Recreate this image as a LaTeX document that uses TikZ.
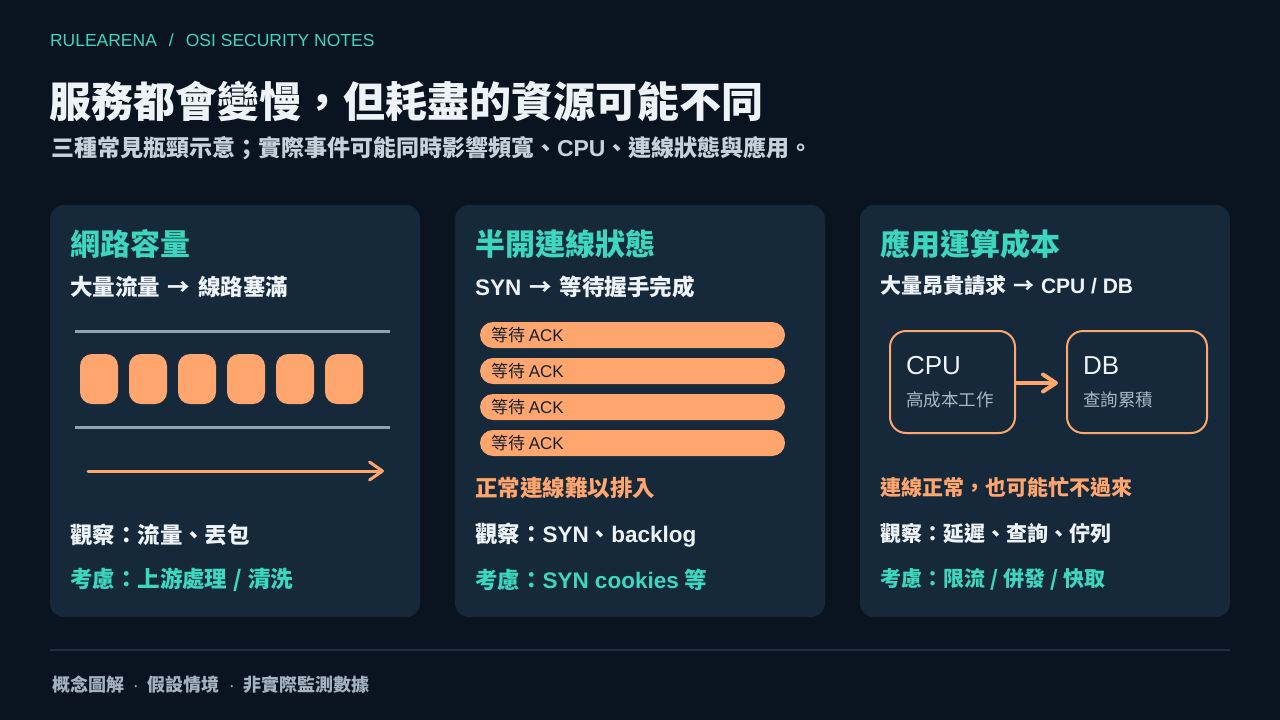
\documentclass[tikz,border=0pt]{standalone}
\usepackage{fontspec}
\usetikzlibrary{arrows.meta}
\setmainfont{Noto Sans CJK TC}
\newfontfamily\la{Liberation Sans}
\definecolor{bg}{HTML}{0A1320}
\definecolor{cardc}{HTML}{15293A}
\definecolor{teal}{HTML}{3DD6BE}
\definecolor{orng}{HTML}{FFA66F}
\definecolor{fg}{HTML}{EEF3F7}
\definecolor{subc}{HTML}{C6D2DB}
\definecolor{pipec}{HTML}{8EA3B0}
\definecolor{mutec}{HTML}{A8B8C4}
\definecolor{footc}{HTML}{A3B3BF}
\definecolor{rulec}{HTML}{1E3142}
\definecolor{darkt}{HTML}{14202C}
\newcommand{\fs}[1]{\fontsize{#1}{#1}\selectfont}
\newcommand{\arr}{\hspace{8pt}→\hspace{8pt}}
\newcommand{\sls}{\hspace{6pt}/\hspace{6pt}}
\begin{document}
\begin{tikzpicture}[x=1pt,y=-1pt,
  t/.style={anchor=west, inner sep=0pt, outer sep=0pt},
  cardbox/.style={fill=cardc, rounded corners=14pt, minimum width=370pt, minimum height=412pt, inner sep=0pt},
  cardtitle/.style={t, text=teal, font=\bfseries\fs{30}},
  cardsub/.style={t, text=fg, font=\bfseries\fs{22.5}},
  obs/.style={t, text=fg, font=\bfseries\fs{22.5}},
  cons/.style={t, text=teal, font=\bfseries\fs{22.5}},
  warn/.style={t, text=orng, font=\bfseries\fs{22.5}},
  small/.style={font=\bfseries\fs{21}},
  packet/.style={fill=orng, rounded corners=12pt, minimum width=38pt, minimum height=50pt, inner sep=0pt},
  pipe/.style={draw=pipec, line width=3pt},
  pill/.style={fill=orng, rounded corners=13pt, minimum width=305pt, minimum height=26pt, inner sep=0pt},
  pilltext/.style={t, text=darkt, font=\fs{17}},
  srvbox/.style={draw=orng, line width=2pt, fill=cardc, rounded corners=16pt, minimum height=102pt, inner sep=0pt},
  flow/.style={draw=orng, line width=3pt, line cap=round, -{Straight Barb[length=13pt,width=18pt,line cap=round,line join=round]}},
]
\useasboundingbox (0,0) rectangle (1280,720);
\fill[bg] (0,0) rectangle (1280,720);

% header
\node[t, text=teal, font=\la\fs{17.5}] (brand) at (50,40) {RULEARENA\hspace{12pt}/\hspace{12pt}OSI SECURITY NOTES};
\node[t, text=fg, font=\bfseries\fs{42}] (title) at (49,101) {服務都會變慢，但耗盡的資源可能不同};
\node[t, text=subc, font=\bfseries\fs{23}] (subtitle) at (51,148) {三種常見瓶頸示意；實際事件可能同時影響頻寬、{\la CPU}、連線狀態與應用。};

% cards
\node[cardbox] (c1) at (235,411) {};
\node[cardbox] (c2) at (640,411) {};
\node[cardbox] (c3) at (1045,411) {};

% card 1
\node[cardtitle] (t1) at (70,244) {網路容量};
\node[cardsub] (s1) at (70,287) {大量流量\arr 線路塞滿};
\coordinate (pa1) at (75,331); \coordinate (pa2) at (390,331);
\coordinate (pb1) at (75,427); \coordinate (pb2) at (390,427);
\draw[pipe] (pa1) -- (pa2);
\draw[pipe] (pb1) -- (pb2);
\foreach \i in {0,...,5} {
  \node[packet] (p\i) at ({99+49*\i},379) {};
}
\coordinate (f1) at (88,471); \coordinate (f2) at (384,471);
\draw[flow] (f1) -- (f2);
\node[obs] (o1) at (70,535) {觀察：流量、丟包};
\node[cons] (k1) at (70,580) {考慮：上游處理\sls 清洗};

% card 2
\node[cardtitle] (t2) at (475,244) {半開連線狀態};
\node[cardsub] (s2) at (475,287) {{\la SYN}\arr 等待握手完成};
\foreach \y [count=\j] in {335,371,407,443} {
  \node[pill] (q\j) at (632.5,\y) {};
  \node[pilltext] (qt\j) at (491,\y) {等待 {\la ACK}};
}
\node[warn] (w2) at (475,488) {正常連線難以排入};
\node[obs] (o2) at (475,535) {觀察：{\la SYN}、{\la backlog}};
\node[cons] (k2) at (475,580) {考慮：{\la SYN cookies}\hspace{6pt}等};

% card 3
\node[cardtitle] (t3) at (880,244) {應用運算成本};
\node[cardsub, small] (s3) at (880,286) {大量昂貴請求\hspace{7pt}→\hspace{7pt}{\la CPU / DB}};
\node[srvbox, minimum width=125pt] (cpu) at (952.5,382) {};
\node[srvbox, minimum width=140pt] (db) at (1137,382) {};
\node[t, text=fg, font=\la\fs{26}] (cpul) at (906,366) {CPU};
\node[t, text=mutec, font=\fs{17.5}] (cpus) at (906,400) {高成本工作};
\node[t, text=fg, font=\la\fs{26}] (dbl) at (1083,366) {DB};
\node[t, text=mutec, font=\fs{17.5}] (dbs) at (1083,400) {查詢累積};
\draw[draw=orng, line width=4pt, -{Straight Barb[length=13pt,width=17pt,line cap=round,line join=round]}, shorten >=8pt] ([yshift=-1pt]cpu.east) -- ([yshift=-1pt]db.west);
\node[warn, small] (w3) at (880,487) {連線正常，也可能忙不過來};
\node[obs, small] (o3) at (880,534) {觀察：延遲、查詢、佇列};
\node[cons, small] (k3) at (880,579) {考慮：限流\hspace{5pt}/\hspace{5pt}併發\hspace{5pt}/\hspace{5pt}快取};

% footer
\coordinate (r1) at (50,650); \coordinate (r2) at (1230,650);
\draw[draw=rulec, line width=2pt] (r1) -- (r2);
\node[t, text=footc, font=\bfseries\fs{18}] (foot) at (52,685) {概念圖解\hspace{9pt}{\la\mdseries ·}\hspace{9pt}假設情境\hspace{9pt}{\la\mdseries ·}\hspace{9pt}非實際監測數據};
\end{tikzpicture}
\end{document}
